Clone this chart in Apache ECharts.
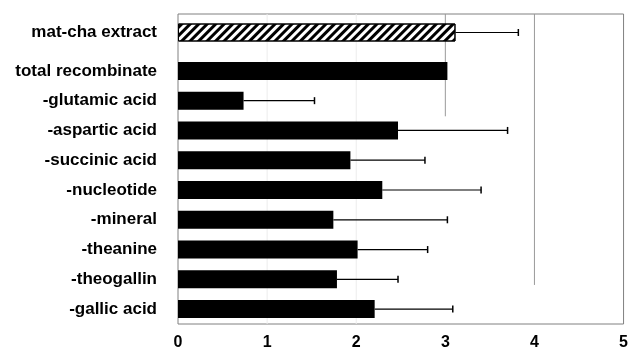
<!DOCTYPE html>
<html>
<head>
<meta charset="utf-8">
<script src="https://cdn.jsdelivr.net/npm/echarts@6/dist/echarts.min.js"></script>
<style>html,body{margin:0;padding:0;background:#fff}#c{width:631px;height:355px}</style>
</head>
<body>
<div id="c"></div>
<script>
// ---- data ----
var topCategories = ['mat-cha extract'];
var topValues = [3.09];
var topErrors = [0.70];

var categories = ['total recombinate', '-glutamic acid', '-aspartic acid', '-succinic acid',
  '-nucleotide', '-mineral', '-theanine', '-theogallin', '-gallic acid'];
var values = [3.00, 0.73, 2.45, 1.92, 2.275, 1.73, 2.00, 1.77, 2.19];
var errors = [null, 0.79, 1.22, 0.83, 1.10, 1.27, 0.78, 0.68, 0.87];

var xTicks = [0, 1, 2, 3, 4, 5];
// partial vertical grid lines: x value, start & end as fraction of plot height
var gridSegments = [
  [1, 0, 1, 'faint'], [2, 0, 1, 'faint'],
  [3, 0, 0.33, 'main'], [4, 0, 0.874, 'main']
];

var chart = echarts.init(document.getElementById('c'));
var font = 'Liberation Sans, Arial, sans-serif';

function errSeries(vals, errs, xi, yi) {
  var d = [];
  for (var i = 0; i < vals.length; i++) {
    if (errs[i] != null) d.push([vals[i], vals[i] + errs[i], i]);
  }
  return {
    type: 'custom', xAxisIndex: xi, yAxisIndex: yi, z: 5, silent: true,
    data: d,
    renderItem: function (params, api) {
      var a = api.coord([api.value(0), api.value(2)]);
      var b = api.coord([api.value(1), api.value(2)]);
      var h = 3.5;
      return {
        type: 'group',
        children: [
          { type: 'line', shape: { x1: a[0], y1: a[1], x2: b[0], y2: b[1] }, style: { stroke: '#000', lineWidth: 1.2 } },
          { type: 'line', shape: { x1: b[0], y1: b[1] - h, x2: b[0], y2: b[1] + h }, style: { stroke: '#000', lineWidth: 1.5 } }
        ]
      };
    }
  };
}

var plotLeft = 178, plotRight = 4, plotTop = 14, plotBottom = 31;

var option = {
  animation: false,
  backgroundColor: '#fff',
  grid: [
    { left: plotLeft, right: plotRight, top: plotTop, bottom: plotBottom, show: true, borderColor: '#808080', borderWidth: 1, backgroundColor: 'transparent' },
    { left: plotLeft, right: plotRight, top: plotTop, height: 37 },
    { left: plotLeft, right: plotRight, top: 56, bottom: plotBottom }
  ],
  xAxis: [
    { gridIndex: 0, type: 'value', min: 0, max: 5, interval: 1,
      axisLine: { show: false }, axisTick: { show: false }, splitLine: { show: false },
      axisLabel: { margin: 11, fontSize: 16, fontWeight: 'bold', color: '#000', fontFamily: font,
        formatter: function (v) { return xTicks.indexOf(v) >= 0 ? String(v) : ''; } } },
    { gridIndex: 1, type: 'value', min: 0, max: 5, show: false },
    { gridIndex: 2, type: 'value', min: 0, max: 5, show: false }
  ],
  yAxis: [
    { gridIndex: 0, type: 'value', min: 0, max: 1, inverse: true, show: false },
    { gridIndex: 1, type: 'category', data: topCategories, inverse: true,
      axisLine: { show: false }, axisTick: { show: false },
      axisLabel: { margin: 21, fontSize: 17, fontWeight: 'bold', color: '#000', fontFamily: font } },
    { gridIndex: 2, type: 'category', data: categories, inverse: true,
      axisLine: { show: false }, axisTick: { show: false },
      axisLabel: { margin: 21, fontSize: 17, fontWeight: 'bold', color: '#000', fontFamily: font } }
  ],
  series: [
    {
      type: 'custom', xAxisIndex: 0, yAxisIndex: 0, z: 1, silent: true,
      data: gridSegments,
      renderItem: function (params, api) {
        var a = api.coord([api.value(0), api.value(1)]);
        var b = api.coord([api.value(0), api.value(2)]);
        var faint = gridSegments[params.dataIndex][3] === 'faint';
        return { type: 'line', shape: { x1: a[0], y1: a[1], x2: b[0], y2: b[1] },
          style: { stroke: faint ? '#ececec' : '#999', lineWidth: 1 } };
      }
    },
    {
      type: 'bar', xAxisIndex: 1, yAxisIndex: 1, data: topValues, barWidth: 18, z: 3,
      itemStyle: {
        color: '#fff', borderColor: '#000', borderWidth: 1,
        decal: { symbol: 'rect', symbolSize: 1, dashArrayX: [1, 0], dashArrayY: [2.1, 2.1], rotation: -Math.PI / 4, color: '#000' }
      }
    },
    errSeries(topValues, topErrors, 1, 1),
    {
      type: 'bar', xAxisIndex: 2, yAxisIndex: 2, data: values, barWidth: 18, z: 3,
      itemStyle: { color: '#000' }
    },
    errSeries(values, errors, 2, 2)
  ]
};
chart.setOption(option);
</script>
</body>
</html>
